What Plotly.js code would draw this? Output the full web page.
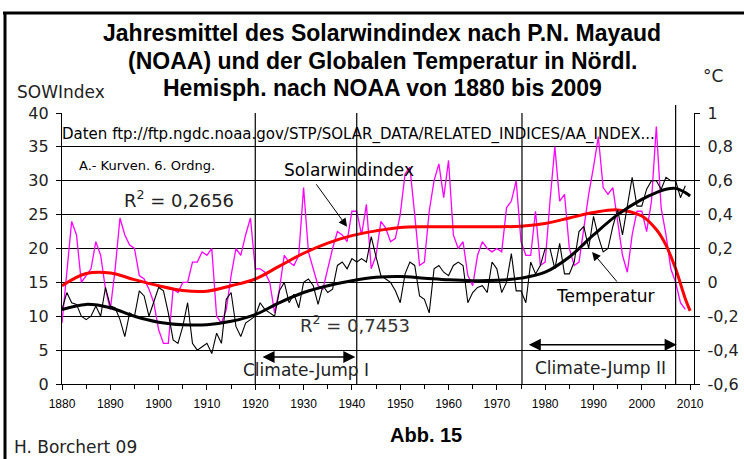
<!DOCTYPE html>
<html><head><meta charset="utf-8">
<script src="https://cdn.plot.ly/plotly-3.0.1.min.js"></script>
<style>html,body{margin:0;padding:0;background:#fff}#chart{width:744px;height:459px}</style>
</head><body><div id="chart"></div>
<script>
// ---- data ----
const years = Array.from({length: 130}, (_, i) => 1880 + i); // 1880..2009
const solarIndex = [
 9,16,24,22,15,16,17,21,19,14, 11,17,24.5,22,20.5,20,16,15.5,14,12,
 8,6,6,14,13.5,15,15,18,18,19.5, 19,20,10,9,11,16,20,19,22,24.5,
 17,17,16.5,15,10.5,14,19,18,17.5,19, 29,19.5,17,14.5,14,17,20,22.5,22,21,
 25.5,25.5,22,26.5,17,19,24,23,21,21.5, 25,31,32,25,17.5,18,25.5,30,32.5,27.5,
 33,22,20,21,16,14.5,19,21,20,19.5, 20,19.5,26,27,30,21,19,19,25.5,17.5,
 18,27,35,27,28,20,17.5,18,23,28, 32,36.5,29,28,29,24,19,16.5,22,25.5,
 25.5,22.5,27,38,26,22,17,15,12,11
];
const temperature = [
 -0.16,-0.06,-0.12,-0.13,-0.2,-0.22,-0.2,-0.14,-0.2,-0.03, -0.14,-0.15,-0.22,-0.32,-0.18,-0.2,-0.05,-0.08,-0.2,-0.12,
 -0.03,-0.05,-0.18,-0.34,-0.36,-0.26,-0.12,-0.36,-0.4,-0.38, -0.36,-0.42,-0.3,-0.36,-0.1,-0.06,-0.26,-0.32,-0.24,-0.22,
 -0.2,-0.12,-0.16,-0.18,-0.2,-0.05,0.0,-0.12,-0.07,-0.15, 0.0,0.02,-0.02,-0.13,-0.02,-0.06,-0.04,0.1,0.12,0.08,
 0.14,0.12,0.14,0.12,0.27,0.15,0.04,0.02,0.0,-0.05, -0.12,0.05,0.12,0.1,-0.08,-0.1,-0.18,0.08,0.1,0.06,
 0.04,0.1,0.12,0.1,-0.12,-0.06,-0.03,-0.02,-0.06,0.12, 0.08,-0.06,0.0,0.17,-0.05,-0.05,-0.12,0.12,0.05,0.1,
 0.2,0.2,0.08,0.23,0.05,0.05,0.12,0.3,0.33,0.2, 0.39,0.27,0.18,0.2,0.33,0.43,0.28,0.45,0.62,0.45,
 0.45,0.55,0.6,0.6,0.55,0.62,0.6,0.6,0.5,0.57
];
// 6th-order trend curves as drawn in the reference
const trendYears = [1880,1885,1890,1895,1900,1905,1910,1915,1920,1925,1930,1935,1940,1945,1950,1955,1960,1965,1970,1975,1980,1985,1990,1995,2000,2003,2005,2007,2009,2010];
const solarTrend = [14.5,16.3,16.4,15.4,14.5,13.8,13.7,14.5,15.5,17.4,19.3,20.8,21.9,22.6,23.1,23.2,23.2,23.2,23.2,23.3,23.7,24.5,25.3,25.7,24.8,22.8,20.5,17.0,12.6,10.8];
const tempTrend = [-0.16,-0.13,-0.15,-0.2,-0.235,-0.25,-0.25,-0.23,-0.19,-0.12,-0.06,-0.02,0.01,0.03,0.035,0.025,0.015,0.01,0.012,0.025,0.06,0.15,0.28,0.40,0.49,0.53,0.55,0.555,0.53,0.51];

const leftTicks = [0,5,10,15,20,25,30,35,40];
const rightTickVals = [-0.6,-0.4,-0.2,0,0.2,0.4,0.6,0.8,1];
const rightTickText = ['-0,6','-0,4','-0,2','0','0,2','0,4','0,6','0,8','1'];
const xTicks = [1880,1890,1900,1910,1920,1930,1940,1950,1960,1970,1980,1990,2000,2010];
const titleLines = ['Jahresmittel des Solarwindindex nach P.N. Mayaud','(NOAA) und der Globalen Temperatur in Nördl.','Hemisph. nach NOAA von 1880 bis 2009'];
const jumpLines = [1920, 1941, 1975.2, 2007];

const F = '"Liberation Sans", Arial, sans-serif';
const D = '"DejaVu Sans", Verdana, sans-serif';
const traces = [
 {x: years, y: solarIndex, type:'scatter', mode:'lines', line:{color:'#ff00ff', width:1.3}, yaxis:'y'},
 {x: years, y: temperature, type:'scatter', mode:'lines', line:{color:'#000', width:1.1}, yaxis:'y2'},
 {x: trendYears, y: solarTrend, type:'scatter', mode:'lines', line:{color:'#ff0000', width:3, shape:'spline', smoothing:1}, yaxis:'y'},
 {x: trendYears, y: tempTrend, type:'scatter', mode:'lines', line:{color:'#000', width:3, shape:'spline', smoothing:1}, yaxis:'y2'}
];

const L=62, R=694, T=113, B=384;
const px2paperX = p => (p - L) / (R - L);
const px2paperY = p => (B - p) / (B - T);
const txt = (text, x, y, font, anchor, refs) => Object.assign({text, x, y, xanchor: anchor || 'center', yanchor:'middle', showarrow:false, font}, refs || {xref:'paper', yref:'paper'});

const ann = [];
const tY = [33, 61, 88];
titleLines.forEach((t,i)=>ann.push(txt('<b>'+t+'</b>', px2paperX(382), px2paperY(tY[i]), {family:F, size:23, color:'#000'})));
ann.push(txt('SOWIndex', px2paperX(61), px2paperY(92), {family:D, size:17, color:'#222'}));
ann.push(txt('°C', px2paperX(713), px2paperY(76), {family:D, size:17, color:'#222'}));
ann.push(txt('Daten ftp://ftp.ngdc.noaa.gov/STP/SOLAR_DATA/RELATED_INDICES/AA_INDEX...', px2paperX(60), px2paperY(134), {family:D, size:15, color:'#000'}, 'left'));
const XY = {xref:'x', yref:'y'};
ann.push(txt('A.- Kurven. 6. Ordng.', 1897.6, 32.3, {family:D, size:13, color:'#000'}, 'center', XY));
ann.push(txt('R<sup>2</sup> = 0,2656', 1904.2, 27.3, {family:D, size:18, color:'#222'}, 'center', XY));
ann.push(txt('R<sup>2</sup> = 0,7453', 1940.7, 8.9, {family:D, size:18, color:'#333'}, 'center', XY));
ann.push(txt('Solarwindindex', 1939.3, 31.6, {family:D, size:17, color:'#000'}, 'center', XY));
ann.push(txt('Temperatur', 1992.4, 13.0, {family:D, size:17, color:'#000'}, 'center', XY));
ann.push(txt('Climate-Jump I', 1930.5, 2.1, {family:D, size:17, color:'#222'}, 'center', XY));
ann.push(txt('Climate-Jump II', 1991.4, 2.35, {family:D, size:17, color:'#222'}, 'center', XY));
ann.push({text:'', xref:'x', yref:'y', axref:'x', ayref:'y', x:1939.0, y:23.2, ax:1932.4, ay:29.7, showarrow:true, arrowhead:2, arrowsize:1.7, arrowwidth:1, arrowcolor:'#000'});
ann.push({text:'', xref:'x', yref:'y', axref:'x', ayref:'y', x:1989.7, y:19.5, ax:1995.1, ay:14.9, showarrow:true, arrowhead:2, arrowsize:1.7, arrowwidth:1, arrowcolor:'#000'});
ann.push({text:'', xref:'x', yref:'y', axref:'x', ayref:'y', x:1940.7, y:4.0, ax:1921.2, ay:4.0, showarrow:true, arrowhead:2, startarrowhead:2, arrowside:'end+start', arrowsize:1.6, startarrowsize:1.6, arrowwidth:1.5, arrowcolor:'#000'});
ann.push({text:'', xref:'x', yref:'y', axref:'x', ayref:'y', x:2007.2, y:5.8, ax:1976.3, ay:5.8, showarrow:true, arrowhead:2, startarrowhead:2, arrowside:'end+start', arrowsize:1.6, startarrowsize:1.6, arrowwidth:1.5, arrowcolor:'#000'});
ann.push(txt('H. Borchert 09', px2paperX(12), px2paperY(447), {family:D, size:17, color:'#222'}, 'left'));
ann.push(txt('<b>Abb. 15</b>', px2paperX(426), px2paperY(435), {family:F, size:20, color:'#000'}));

const shapes = [];
jumpLines.forEach((yr,i)=>shapes.push({type:'line', xref:'x', yref:'paper', x0:yr, x1:yr, y0:0, y1: i===3 ? px2paperY(105) : 1, line:{color:'#000', width:1.2}}));
// outer frame (top and left)
shapes.push({type:'line', xref:'paper', yref:'paper', x0:px2paperX(3), x1:px2paperX(750), y0:px2paperY(13), y1:px2paperY(13), line:{color:'#000', width:3}});
shapes.push({type:'line', xref:'paper', yref:'paper', x0:px2paperX(5), x1:px2paperX(5), y0:px2paperY(12), y1:px2paperY(470), line:{color:'#000', width:3}});

const layout = {
 width:744, height:459, margin:{l:L, r:744-R, t:T, b:459-B}, paper_bgcolor:'#fff', plot_bgcolor:'#fff',
 showlegend:false, separators:',.',
 font:{family:F, color:'#000'},
 xaxis:{range:[1880,2010.8], tickvals:xTicks, ticks:'outside', ticklen:5, tickcolor:'#000', showline:true, linecolor:'#000', linewidth:1.2, showgrid:false, zeroline:false, tickfont:{family:F, size:12}, ticklabelstandoff:3, minor:{dtick:5, tick0:1880, ticks:'outside', ticklen:4, tickcolor:'#000'}},
 yaxis:{range:[0,40], tickvals:leftTicks, ticks:'outside', ticklen:5, tickcolor:'#000', showline:true, linecolor:'#000', linewidth:1.2, showgrid:true, gridcolor:'#000', gridwidth:1, zeroline:false, tickfont:{family:D, size:16, color:'#222'}, ticklabelstandoff:4},
 yaxis2:{range:[-0.6,1], overlaying:'y', side:'right', tickvals:rightTickVals, ticktext:rightTickText, ticks:'outside', ticklen:5, tickcolor:'#000', showline:true, linecolor:'#000', linewidth:1.2, showgrid:false, zeroline:false, tickfont:{family:D, size:16, color:'#222'}, ticklabelstandoff:4},
 annotations:ann, shapes:shapes
};
Plotly.newPlot('chart', traces, layout, {displayModeBar:false, staticPlot:true});
</script></body></html>
